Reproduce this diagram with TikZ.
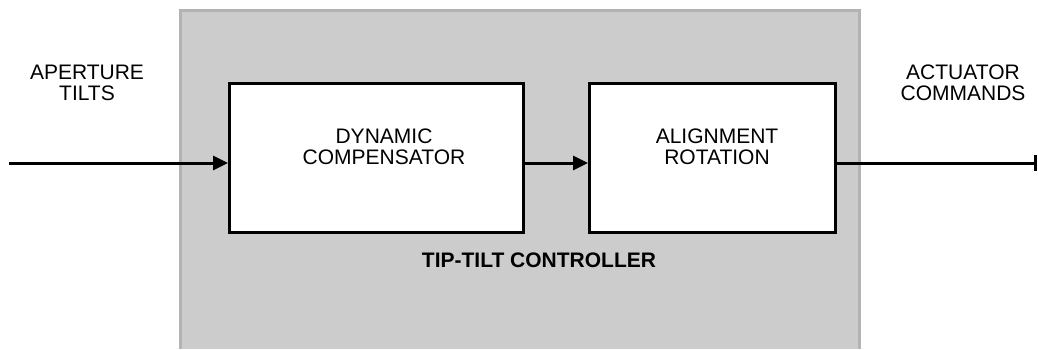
\documentclass[tikz,border=0pt]{standalone}
\usepackage{fontspec}
\setmainfont{Liberation Sans}
\usetikzlibrary{arrows.meta}
\definecolor{panelfill}{HTML}{CCCCCC}
\definecolor{panelline}{HTML}{B3B3B3}
\begin{document}
\begin{tikzpicture}[x=1pt,y=-1pt,
  blockbox/.style={draw=black,line width=3pt,fill=white,minimum width=294pt,minimum height=149pt,inner sep=0pt,anchor=north west},
  lbl/.style={align=center,inner sep=0pt,font=\fontsize{21}{21}\selectfont},
  flow/.style={line width=3pt,-{Triangle[length=15pt,width=14pt]}},
  endbar/.style={line width=3pt,-{Bar[width=16pt,line width=3pt]}}]
\useasboundingbox (0,0) rectangle (1038,349);
% controller panel, open at the bottom
\fill[panelfill] (180,10) rectangle (859,349);
\draw[panelline,line width=3pt] (180,349) -- (180,10) -- (859,10) -- (859,349);
% blocks
\node[blockbox] (comp) at (228,82) {};
\node[blockbox,minimum width=246pt] (rot) at (588,82) {};
\node[lbl] (comptxt) at (384,147) {DYNAMIC\\COMPENSATOR};
\node[lbl] (rottxt) at (717,147) {ALIGNMENT\\ROTATION};
\node[lbl,font=\fontsize{21}{21}\selectfont\bfseries] (ctrl) at (539,260.5) {TIP-TILT CONTROLLER};
% signals
\node[lbl] (intxt) at (87,83) {APERTURE\\TILTS};
\node[lbl] (outtxt) at (963,83) {ACTUATOR\\COMMANDS};
\coordinate (src) at (9,163);
\coordinate (dst) at (1037,163);
\draw[flow] (src) -- (src -| comp.west);
\draw[flow] (comp.east |- src) -- (rot.west |- src);
\draw[endbar] (rot.east |- src) -- (dst);
\end{tikzpicture}
\end{document}
